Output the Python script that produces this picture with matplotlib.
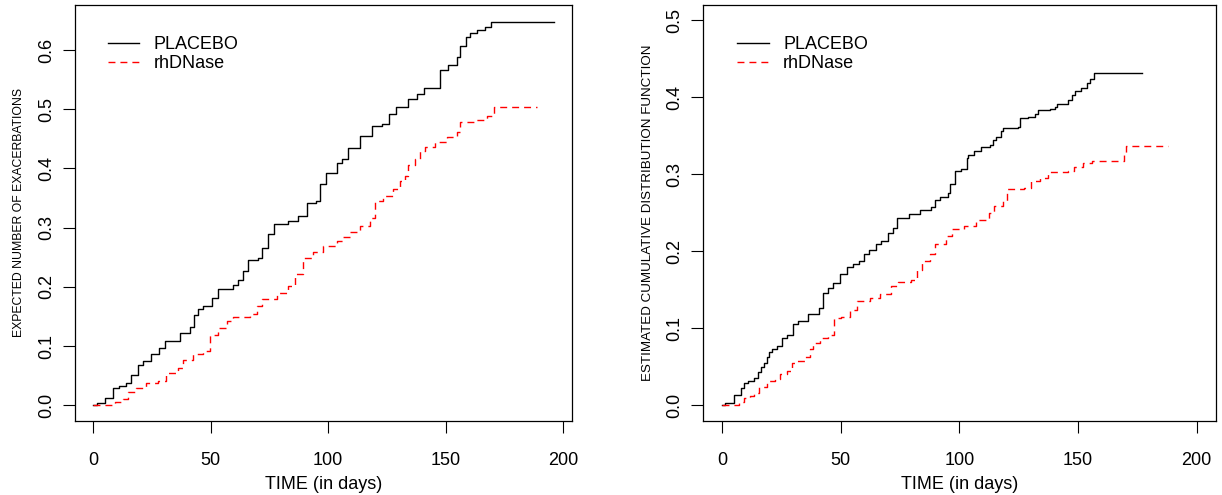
import matplotlib
matplotlib.use("Agg")
import matplotlib.pyplot as plt

plt.rcParams['font.family'] = ['Liberation Sans', 'DejaVu Sans']

# left panel: expected number of exacerbations (step functions)
left_placebo_t = [0, 1.5, 5, 8.4, 11, 14, 16, 19, 21, 24.7, 28, 30.4, 37, 41, 43, 44.4, 46.8, 50.3, 53, 59.5,
                  61.7, 63.8, 66, 70, 71.6, 74.5, 77, 83, 87, 90.8, 95, 96.5, 99, 103.6, 106, 108.6, 113.6, 118.5,
                  122.8, 125.7, 129, 134, 137.7, 140.6, 147.7, 151, 154.8, 156.2, 158.8, 160.5, 163.3, 166.9, 169.3, 196]
left_placebo_v = [0, 0.0034, 0.013, 0.029, 0.032, 0.037, 0.051, 0.068, 0.075, 0.086, 0.097, 0.109, 0.122, 0.132,
                  0.153, 0.162, 0.167, 0.181, 0.197, 0.204, 0.212, 0.227, 0.245, 0.249, 0.266, 0.289, 0.306, 0.311,
                  0.320, 0.342, 0.345, 0.373, 0.392, 0.410, 0.416, 0.434, 0.455, 0.472, 0.475, 0.492, 0.503, 0.517,
                  0.526, 0.536, 0.566, 0.574, 0.588, 0.606, 0.622, 0.629, 0.634, 0.639, 0.647, 0.647]
left_dnase_t = [0, 5.5, 9, 12.6, 14.8, 18, 22.6, 27.6, 31, 36, 38, 42.5, 46.8, 49.6, 53, 56.7, 59.5, 66.7, 69.5,
                71.6, 78, 83, 85.9, 89.4, 93.7, 97.9, 103.6, 106.5, 109.3, 113.6, 117.8, 120, 123.5, 127.8, 130.6,
                132.8, 134, 137, 139, 141.3, 145.6, 150.5, 154.8, 156.2, 162, 167.6, 170.4, 189]
left_dnase_v = [0, 0.001, 0.006, 0.010, 0.023, 0.029, 0.037, 0.041, 0.055, 0.063, 0.077, 0.087, 0.091, 0.119,
                0.131, 0.142, 0.150, 0.154, 0.167, 0.180, 0.189, 0.202, 0.221, 0.249, 0.259, 0.269, 0.277, 0.285,
                0.292, 0.303, 0.317, 0.345, 0.354, 0.365, 0.379, 0.388, 0.405, 0.416, 0.430, 0.436, 0.444, 0.453,
                0.461, 0.479, 0.481, 0.489, 0.503, 0.503]

# right panel: estimated cumulative distribution function
right_placebo_t = [0, 1.2, 5.1, 8.1, 9, 11, 13.4, 15, 16.2, 17.8, 18.8, 19.6, 20.9, 23, 25, 27.4, 29.8, 32, 36,
                   40.7, 42.5, 44.5, 46.9, 49.7, 52.6, 55, 57.8, 59.8, 62, 64.8, 67.1, 69.8, 71.8, 73.8, 78.8, 83.5,
                   88.2, 89.7, 92, 95.2, 96, 98.3, 100.6, 103, 103.7, 106, 109.2, 113, 114.2, 115.4, 117.4, 118.5,
                   124.8, 125.5, 128.7, 132, 133.3, 138, 140.3, 141.1, 145.8, 147.4, 148.9, 151.2, 153.6, 155.1,
                   156.7, 177]
right_placebo_v = [0, 0.0035, 0.013, 0.022, 0.029, 0.031, 0.035, 0.043, 0.050, 0.055, 0.063, 0.069, 0.073, 0.077,
                   0.087, 0.092, 0.106, 0.109, 0.119, 0.126, 0.146, 0.152, 0.159, 0.171, 0.180, 0.184, 0.188, 0.196,
                   0.202, 0.209, 0.214, 0.224, 0.230, 0.243, 0.248, 0.254, 0.258, 0.267, 0.270, 0.276, 0.288, 0.304,
                   0.307, 0.321, 0.325, 0.330, 0.335, 0.338, 0.345, 0.349, 0.356, 0.360, 0.362, 0.373, 0.375, 0.379,
                   0.383, 0.385, 0.387, 0.392, 0.397, 0.403, 0.408, 0.412, 0.418, 0.424, 0.432, 0.432]
right_dnase_t = [0, 5.3, 7.2, 9.2, 11.8, 13.4, 15.7, 18.8, 22.4, 24.3, 27.4, 29.4, 31.3, 34.9, 36.8, 38.3, 41.4,
                 44.5, 47.2, 50, 53.9, 57, 62.5, 66.4, 71, 74.1, 79.6, 81.9, 84.3, 87.4, 89.7, 94.4, 96.7, 102,
                 106.9, 112.3, 114.6, 118.5, 120.1, 127.1, 130.2, 134.1, 137.2, 145.8, 148.1, 152, 155.9, 169.2,
                 170, 188]
right_dnase_v = [0, 0.001, 0.005, 0.010, 0.012, 0.016, 0.024, 0.031, 0.034, 0.041, 0.045, 0.055, 0.057, 0.063,
                 0.073, 0.081, 0.087, 0.092, 0.113, 0.115, 0.124, 0.135, 0.139, 0.144, 0.155, 0.160, 0.163, 0.176,
                 0.187, 0.196, 0.210, 0.220, 0.229, 0.233, 0.241, 0.250, 0.259, 0.265, 0.281, 0.282, 0.291, 0.295,
                 0.303, 0.305, 0.310, 0.315, 0.317, 0.325, 0.337, 0.337]

group_labels = ['PLACEBO', 'rhDNase']
x_ticks = [0, 50, 100, 150, 200]
left_y_ticks = [0.0, 0.1, 0.2, 0.3, 0.4, 0.5, 0.6]
right_y_ticks = [0.0, 0.1, 0.2, 0.3, 0.4, 0.5]

fig = plt.figure(figsize=(12.22, 4.95), dpi=100)
ax1 = fig.add_axes([0.0614, 0.150, 0.4067, 0.840])
ax2 = fig.add_axes([0.5755, 0.150, 0.4193, 0.840])


def draw_panel(ax, pt, pv, dt, dv, ylabel, ysize, xlim, ylim, yticks):
    ax.step(pt, pv, where='post', color='black', lw=1.0, label=group_labels[0])
    ax.step(dt, dv, where='post', color='red', lw=1.0, dashes=(5, 3.6), label=group_labels[1])
    ax.set_xlim(*xlim)
    ax.set_ylim(*ylim)
    ax.set_xticks(x_ticks)
    ax.set_yticks(yticks)
    ax.set_yticklabels([f'{t:.1f}' for t in yticks], rotation=90, va='center')
    ax.tick_params(direction='out', length=8.5, width=0.8, labelsize=13, pad=6)
    ax.tick_params(axis='x', pad=14)
    for s in ax.spines.values():
        s.set_linewidth(0.9)
    ax.set_xlabel('TIME (in days)', fontsize=13, labelpad=5)
    ax.set_ylabel(ylabel, fontsize=ysize, labelpad=9)
    ax.legend(loc='upper left', bbox_to_anchor=(0.066, 0.925), frameon=False, fontsize=13,
              handlelength=1.75, handletextpad=0.8, labelspacing=0.1, borderpad=0, borderaxespad=0)


draw_panel(ax1, left_placebo_t, left_placebo_v, left_dnase_t, left_dnase_v,
           'EXPECTED NUMBER OF EXACERBATIONS', 8.8, (-7.84, 203.84), (-0.026, 0.676), left_y_ticks)
draw_panel(ax2, right_placebo_t, right_placebo_v, right_dnase_t, right_dnase_v,
           'ESTIMATED CUMULATIVE DISTRIBUTION FUNCTION', 9.6, (-8, 208), (-0.02, 0.52), right_y_ticks)

fig.savefig('out.png', dpi=100)
